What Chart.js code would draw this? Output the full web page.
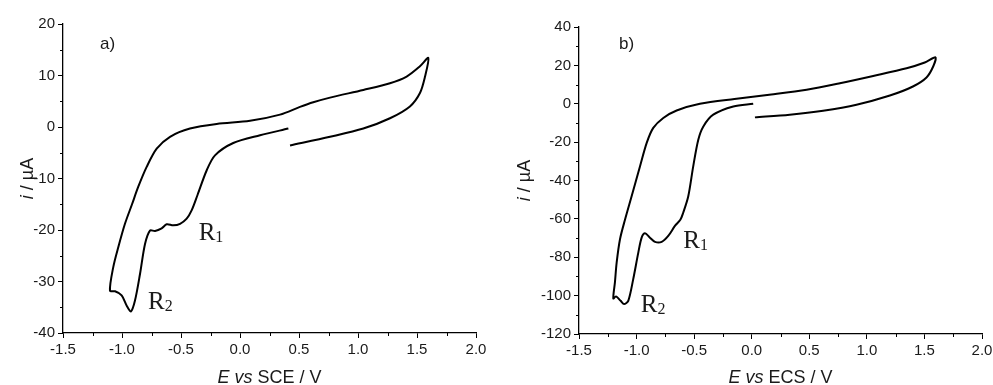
<!DOCTYPE html>
<html>
<head>
<meta charset="utf-8">
<script src="https://cdn.jsdelivr.net/npm/chart.js@4"></script>
<style>
  html, body { margin: 0; padding: 0; background: #fff; }
  #wrap { position: relative; width: 993px; height: 385px; }
  .panel { position: absolute; top: 0; height: 385px; }
  #pa { left: 0; width: 496px; }
  #pb { left: 496px; width: 497px; }
</style>
</head>
<body>
<div id="wrap">
  <div class="panel" id="pa"><canvas id="ca"></canvas></div>
  <div class="panel" id="pb"><canvas id="cb"></canvas></div>
</div>
<script>
// shared x ticks (potential, V)
const xTicks = [-1.5, -1.0, -0.5, 0.0, 0.5, 1.0, 1.5, 2.0];

// panel a) - E vs SCE
const potentialA = [0.424, 0.763, 1.045, 1.271, 1.44, 1.525, 1.568, 1.596,
  1.525, 1.412, 1.271, 1.045, 0.763, 0.621, 0.508, 0.339, 0.085, -0.198, -0.424, -0.593,
  -0.706, -0.79, -0.862, -0.915, -0.975, -1.031, -1.074, -1.102,
  -1.059, -1.003, -0.96, -0.924, -0.89, -0.847, -0.805, -0.763, -0.72, -0.664, -0.621,
  -0.565, -0.508, -0.452, -0.41, -0.36, -0.282, -0.212, -0.057, 0.17, 0.41];
const currentA = [-3.6, -1.9, -0.3, 1.7, 4.0, 6.6, 9.8, 13.4,
  11.8, 9.8, 8.5, 7.2, 5.7, 4.8, 3.9, 2.4, 1.2, 0.6, -0.3, -1.9,
  -4.2, -7.7, -11.6, -15.0, -18.8, -23.3, -27.2, -31.8,
  -31.9, -32.7, -34.7, -35.8, -33.7, -28.5, -22.7, -20.1, -20.2, -19.7, -18.9,
  -19.1, -18.8, -17.8, -16.2, -13.2, -8.4, -5.5, -3.1, -1.6, -0.3];
const yTicksA = [-40, -30, -20, -10, 0, 10, 20];
const peaksA = [
  { name: 'R', sub: '1', E: -0.35, i: -22.0 },
  { name: 'R', sub: '2', E: -0.78, i: -35.3 }
];

// panel b) - E vs ECS
const potentialB = [0.028, 0.33, 0.62, 0.91, 1.20, 1.40, 1.518, 1.576, 1.596,
  1.503, 1.345, 1.055, 0.766, 0.477, 0.17, -0.15, -0.45, -0.652, -0.768, -0.855, -0.912,
  -0.97, -1.043, -1.10, -1.144, -1.173, -1.188, -1.202,
  -1.179, -1.138, -1.109, -1.072, -1.029, -0.985, -0.956, -0.927, -0.884, -0.84, -0.782,
  -0.725, -0.667, -0.62, -0.595, -0.551, -0.508, -0.464, -0.42, -0.334, -0.16, 0.013];
const currentB = [-7.1, -5.7, -3.6, -0.5, 4.3, 9.0, 13.7, 19.4, 24.2,
  21.5, 18.5, 14.5, 10.7, 7.3, 4.8, 2.5, 0.0, -3.5, -7.4, -12.6, -20.4,
  -32.6, -48.2, -60.3, -70.6, -82.8, -93.1, -101.5,
  -100.4, -102.7, -104.4, -102.7, -91.4, -77.6, -69.8, -67.5, -69.8, -72.0, -72.0,
  -68.9, -63.7, -60.5, -56.8, -48.2, -32.6, -18.7, -11.8, -5.7, -1.4, 0.0];
const yTicksB = [-120, -100, -80, -60, -40, -20, 0, 20, 40];
const peaksB = [
  { name: 'R', sub: '1', E: -0.595, i: -75.0 },
  { name: 'R', sub: '2', E: -0.964, i: -108.7 }
];

const textColor = '#1a1a1a';
const sans = "'Liberation Sans', Arial, sans-serif";
const serif = "'Liberation Serif', 'Times New Roman', serif";

// minor ticks half way between majors, axis titles, panel letter, peak names
const decorPlugin = {
  id: 'decor',
  afterDraw(chart, args, o) {
    const c = chart.ctx;
    const area = chart.chartArea;
    const xs = chart.scales.x, ys = chart.scales.y;
    c.save();
    c.strokeStyle = '#000';
    c.lineWidth = 1;
    for (let k = 0; k < o.xTicks.length - 1; k++) {
      const px = Math.round(xs.getPixelForValue((o.xTicks[k] + o.xTicks[k + 1]) / 2)) + 0.5;
      c.beginPath(); c.moveTo(px, area.bottom); c.lineTo(px, area.bottom + 3); c.stroke();
    }
    for (let k = 0; k < o.yTicks.length - 1; k++) {
      const py = Math.round(ys.getPixelForValue((o.yTicks[k] + o.yTicks[k + 1]) / 2)) + 0.5;
      c.beginPath(); c.moveTo(area.left, py); c.lineTo(area.left - 3, py); c.stroke();
    }

    c.fillStyle = textColor;
    c.textBaseline = 'alphabetic';
    const drawRuns = (runs, x, y) => {
      let w = 0;
      runs.forEach(r => { c.font = r.font; w += c.measureText(r.t).width; });
      let cx = x - w / 2;
      runs.forEach(r => { c.font = r.font; c.fillText(r.t, cx, y); cx += c.measureText(r.t).width; });
    };
    // x title
    const it = 'italic 18px ' + sans, up = '18px ' + sans;
    drawRuns([{ t: 'E', font: it }, { t: ' ', font: up }, { t: 'vs', font: it }, { t: ' ' + o.ref + ' / V', font: up }],
      (area.left + area.right) / 2, 383);
    // y title
    c.save();
    c.translate(o.yTitleX, (area.top + area.bottom) / 2);
    c.rotate(-Math.PI / 2);
    drawRuns([{ t: 'i', font: it }, { t: ' / \u00b5A', font: up }], 0, 6);
    c.restore();
    // panel letter
    c.font = '17px ' + sans;
    c.textAlign = 'left';
    c.fillText(o.letter, area.left + o.letterDx, 49);
    // peak names
    o.peaks.forEach(p => {
      const px = xs.getPixelForValue(p.E), py = ys.getPixelForValue(p.i);
      c.font = '25px ' + serif;
      c.fillText(p.name, px, py);
      const w = c.measureText(p.name).width;
      c.font = '16px ' + serif;
      c.fillText(p.sub, px + w, py + 2);
    });
    c.restore();
  }
};

function makePanel(id, E, I, yTicks, opts) {
  const ctx = document.getElementById(id).getContext('2d');
  const W = opts.width, H = 385;
  const tickFont = { family: sans, size: 15 };
  return new Chart(ctx, {
    type: 'scatter',
    data: {
      datasets: [{
        data: E.map((e, k) => ({ x: e, y: I[k] })),
        showLine: true,
        borderColor: '#000',
        borderWidth: 2,
        pointRadius: 0,
        tension: 0.3,
        fill: false
      }]
    },
    options: {
      responsive: true,
      maintainAspectRatio: false,
      animation: false,
      layout: { padding: { left: 0, top: opts.top, right: W - opts.right, bottom: 0 } },
      plugins: {
        legend: { display: false },
        tooltip: { enabled: false },
        decor: { xTicks, yTicks, ref: opts.ref, letter: opts.letter, letterDx: opts.letterDx,
                 yTitleX: opts.yTitleX, peaks: opts.peaks }
      },
      scales: {
        x: {
          type: 'linear',
          min: xTicks[0], max: xTicks[xTicks.length - 1],
          afterBuildTicks: s => { s.ticks = xTicks.map(v => ({ value: v })); },
          afterFit: s => { s.height = H - opts.bottom; s.paddingLeft = 0; s.paddingRight = 0; },
          grid: { drawOnChartArea: false, drawTicks: true, tickLength: 5, color: '#000', tickWidth: 1 },
          border: { display: true, color: '#000', width: 1.3 },
          ticks: { font: tickFont, color: textColor, padding: 3, maxRotation: 0,
                   callback: v => v.toFixed(1) }
        },
        y: {
          type: 'linear',
          min: yTicks[0], max: yTicks[yTicks.length - 1],
          afterBuildTicks: s => { s.ticks = yTicks.map(v => ({ value: v })); },
          afterFit: s => { s.width = opts.left; s.paddingTop = 0; s.paddingBottom = 0; },
          grid: { drawOnChartArea: false, drawTicks: true, tickLength: 5, color: '#000', tickWidth: 1 },
          border: { display: true, color: '#000', width: 1.3 },
          ticks: { font: tickFont, color: textColor, padding: 3, callback: v => String(v) }
        }
      }
    },
    plugins: [decorPlugin]
  });
}

makePanel('ca', potentialA, currentA, yTicksA, {
  width: 496, left: 63, right: 476, top: 24, bottom: 333,
  ref: 'SCE', letter: 'a)', letterDx: 37, yTitleX: 27, peaks: peaksA
});
makePanel('cb', potentialB, currentB, yTicksB, {
  width: 497, left: 83, right: 486, top: 27, bottom: 334,
  ref: 'ECS', letter: 'b)', letterDx: 40, yTitleX: 28, peaks: peaksB
});
</script>
</body>
</html>
